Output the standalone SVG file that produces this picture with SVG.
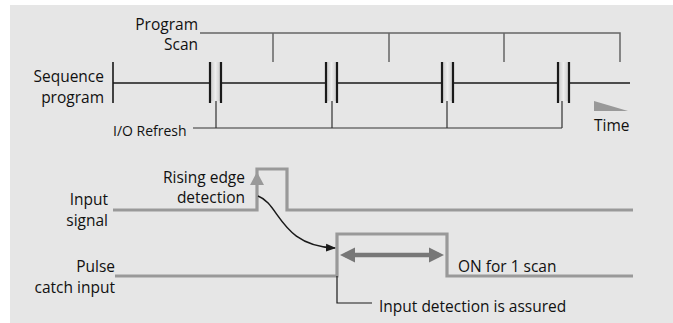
<svg xmlns="http://www.w3.org/2000/svg" width="673" height="323" viewBox="0 0 673 323">
<defs>
<style>
text{font-family:"Open Sans","Noto Sans","Liberation Sans",sans-serif;font-size:15.5px;fill:#111}
.end{text-anchor:end}
.scan{stroke:#666;stroke-width:1.5;fill:none}
.seq{stroke:#1a1a1a;stroke-width:1.6;fill:none}
.bar{stroke:#1a1a1a;stroke-width:2.2;fill:none}
.io{stroke:#333;stroke-width:1.2;fill:none}
.sig{stroke:#999;stroke-width:3.2;fill:none}
.thin{stroke:#1a1a1a;stroke-width:1.2;fill:none}
</style>
<linearGradient id="blk" x1="0" y1="0" x2="1" y2="0">
<stop offset="0" stop-color="#c8c8c8"/>
<stop offset="0.5" stop-color="#eeeeee"/>
<stop offset="1" stop-color="#c8c8c8"/>
</linearGradient>
<marker id="ah" viewBox="0 0 10 10" refX="9" refY="5" markerWidth="10" markerHeight="10" markerUnits="userSpaceOnUse" orient="auto">
<path d="M0,1 L10,5 L0,9 Z" fill="#1a1a1a"/>
</marker>
</defs>
<rect x="10" y="5" width="663" height="318" fill="#e6e6e6"/>

<g id="program-scan">
<path class="scan" d="M200,33 H620 V62 M273,33 V62 M389,33 V62 M504,33 V62"/>
<text class="end" x="198" y="30">Program</text>
<text class="end" x="198" y="50">Scan</text>
</g>

<g id="sequence-program">
<text class="end" x="104" y="82">Sequence</text>
<text class="end" x="104" y="103">program</text>
<path class="seq" d="M113,62 V103 M113,83 H210 M221,83 H326 M337,83 H442 M453,83 H558 M569,83 H630"/>
</g>

<g id="io-refresh">
<rect x="210" y="62" width="11" height="39" fill="url(#blk)"/>
<rect x="326" y="62" width="11" height="39" fill="url(#blk)"/>
<rect x="442" y="62" width="11" height="39" fill="url(#blk)"/>
<rect x="558" y="62" width="11" height="39" fill="url(#blk)"/>
<path class="bar" d="M210,62 V103 M221,62 V103 M326,62 V103 M337,62 V103 M442,62 V103 M453,62 V103 M558,62 V103 M569,62 V103"/>
<path class="io" d="M193,128 H562 M216,101 V128 M332,101 V128 M447,101 V128 M562,101 V128"/>
<text x="113" y="136" style="font-size:14px">I/O Refresh</text>
</g>

<g id="time">
<polygon points="594,101 628,111 594,111" fill="#999"/>
<text x="594" y="131">Time</text>
</g>

<g id="input-signal">
<text class="end" x="108" y="205">Input</text>
<text class="end" x="108" y="226">signal</text>
<path class="sig" d="M113,210 H257 V169 H287 V210 H633"/>
<polygon points="257,172 264,185 250,185" fill="#999"/>
<text class="end" x="245" y="183">Rising edge</text>
<text class="end" x="245" y="203">detection</text>
</g>

<g id="pulse-catch">
<text class="end" x="115" y="272">Pulse</text>
<text class="end" x="115" y="293">catch input</text>
<path class="sig" d="M115,276 H337 V234 H447 V276 H633"/>
<text x="458" y="272">ON for 1 scan</text>
<text x="379" y="312">Input detection is assured</text>
</g>

<g id="connectors">
<path d="M258,196 C280,204 280,246 335,248" stroke="#1a1a1a" stroke-width="1.5" fill="none" marker-end="url(#ah)"/>
<path d="M345,255 H439" stroke="#777" stroke-width="4.5" fill="none"/>
<polygon points="340,255 355,247.5 355,262.5" fill="#777"/>
<polygon points="444,255 429,247.5 429,262.5" fill="#777"/>
<path class="thin" d="M337,276 V303 H372"/>
</g>
</svg>
